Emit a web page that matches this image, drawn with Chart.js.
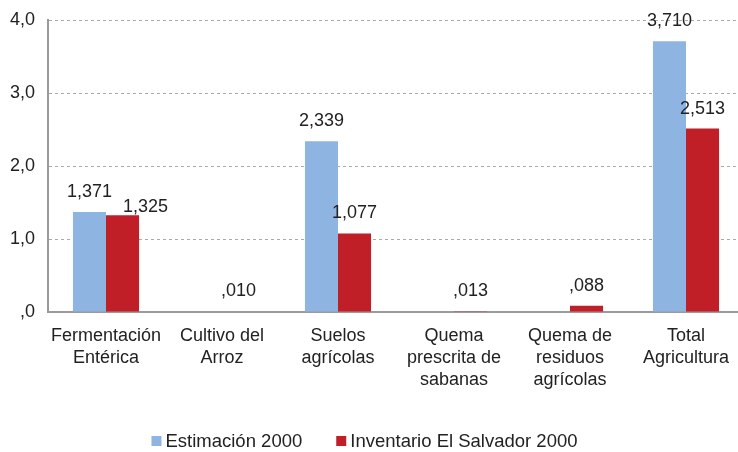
<!DOCTYPE html>
<html>
<head>
<meta charset="utf-8">
<script src="https://cdn.jsdelivr.net/npm/chart.js@4"></script>
<style>
  html,body{margin:0;padding:0;background:#fff;overflow:hidden;}
  #wrap{width:752px;height:452px;}
</style>
</head>
<body>
<div id="wrap"><canvas id="grafico" width="752" height="452"></canvas></div>
<script>
// datos
const categorias = [
  ['Fermentación','Entérica'],
  ['Cultivo del','Arroz'],
  ['Suelos','agrícolas'],
  ['Quema','prescrita de','sabanas'],
  ['Quema de','residuos','agrícolas'],
  ['Total','Agricultura']
];
const estimacion2000 = [1.371, null, 2.339, null, null, 3.710];
const inventario2000 = [1.325, 0.010, 1.077, 0.013, 0.088, 2.513];
const ticksY = [0, 1, 2, 3, 4];

const fuente = "'Liberation Sans', Arial, sans-serif";

function fmt(v, dec){
  let s = v.toFixed(dec).replace('.', ',');
  if (s.startsWith('0,')) s = s.slice(1);
  return s;
}

// etiquetas encima de las barras (si chocan, la segunda se corre a la derecha)
const etiquetas = {
  id:'etiquetas',
  afterDatasetsDraw(chart){
    const ctx = chart.ctx;
    ctx.save();
    ctx.font = '18px ' + fuente;
    ctx.fillStyle = '#222';
    ctx.textAlign = 'center';
    ctx.textBaseline = 'alphabetic';
    const previas = {};
    chart.data.datasets.forEach((ds, i)=>{
      chart.getDatasetMeta(i).data.forEach((bar, j)=>{
        const v = ds.data[j];
        if (v == null) return;
        const txt = fmt(v, 3);
        const w = ctx.measureText(txt).width;
        let x = bar.x, y = bar.y - 15;
        const p = previas[j];
        if (p && x - w/2 < p.right && Math.abs(y - p.y) < 16) {
          x = p.right + 11 + w/2;
          y = bar.y - 3;
        }
        ctx.fillText(txt, x, y);
        previas[j] = {right:x + w/2, y:y};
      });
    });
    ctx.restore();
  }
};

// leyenda dibujada a mano
const leyenda = {
  id:'leyenda',
  afterDraw(chart){
    const ctx = chart.ctx;
    ctx.save();
    ctx.font = '18.5px ' + fuente;
    ctx.textBaseline = 'middle';
    ctx.textAlign = 'left';
    const caja = 10, sep = 4, hueco = 34, yc = 441;
    const items = chart.data.datasets.map(d=>({t:d.label, c:d.backgroundColor, w:ctx.measureText(d.label).width}));
    const total = items.reduce((a,it)=>a + caja + sep + it.w, 0) + hueco*(items.length-1);
    let x = 364.5 - total/2;
    items.forEach(it=>{
      ctx.fillStyle = it.c;
      ctx.fillRect(x, yc - caja/2, caja, caja);
      x += caja + sep;
      ctx.fillStyle = '#222';
      ctx.fillText(it.t, x, yc + 1);
      x += it.w + hueco;
    });
    ctx.restore();
  }
};

const ctx = document.getElementById('grafico').getContext('2d');
new Chart(ctx, {
  type:'bar',
  data:{
    labels: categorias,
    datasets:[
      {label:'Estimación 2000', data:estimacion2000, backgroundColor:'#8eb4e2'},
      {label:'Inventario El Salvador 2000', data:inventario2000, backgroundColor:'#c01f28'}
    ]
  },
  options:{
    responsive:false,
    animation:false,
    layout:{padding:{top:20, left:0, right:8, bottom:56}},
    datasets:{bar:{categoryPercentage:0.57, barPercentage:1.0}},
    plugins:{
      legend:{display:false},
      tooltip:{enabled:false}
    },
    scales:{
      x:{
        grid:{display:false},
        border:{color:'#9a9a9a', width:2},
        ticks:{color:'#222', font:{family:fuente, size:18, lineHeight:1.22}, maxRotation:0, autoSkip:false, padding:5}
      },
      y:{
        min:0, max:4,
        afterBuildTicks(axis){ axis.ticks = ticksY.map(v=>({value:v})); },
        afterFit(axis){ axis.width = 48; axis.paddingTop = 0; axis.paddingBottom = 0; },
        grid:{color:'#aaa', drawTicks:false},
        border:{color:'#9a9a9a', width:2, dash:[3,3]},
        ticks:{color:'#222', font:{family:fuente, size:18}, padding:13, callback:v=>fmt(v,1)}
      }
    }
  },
  plugins:[etiquetas, leyenda]
});
</script>
</body>
</html>
